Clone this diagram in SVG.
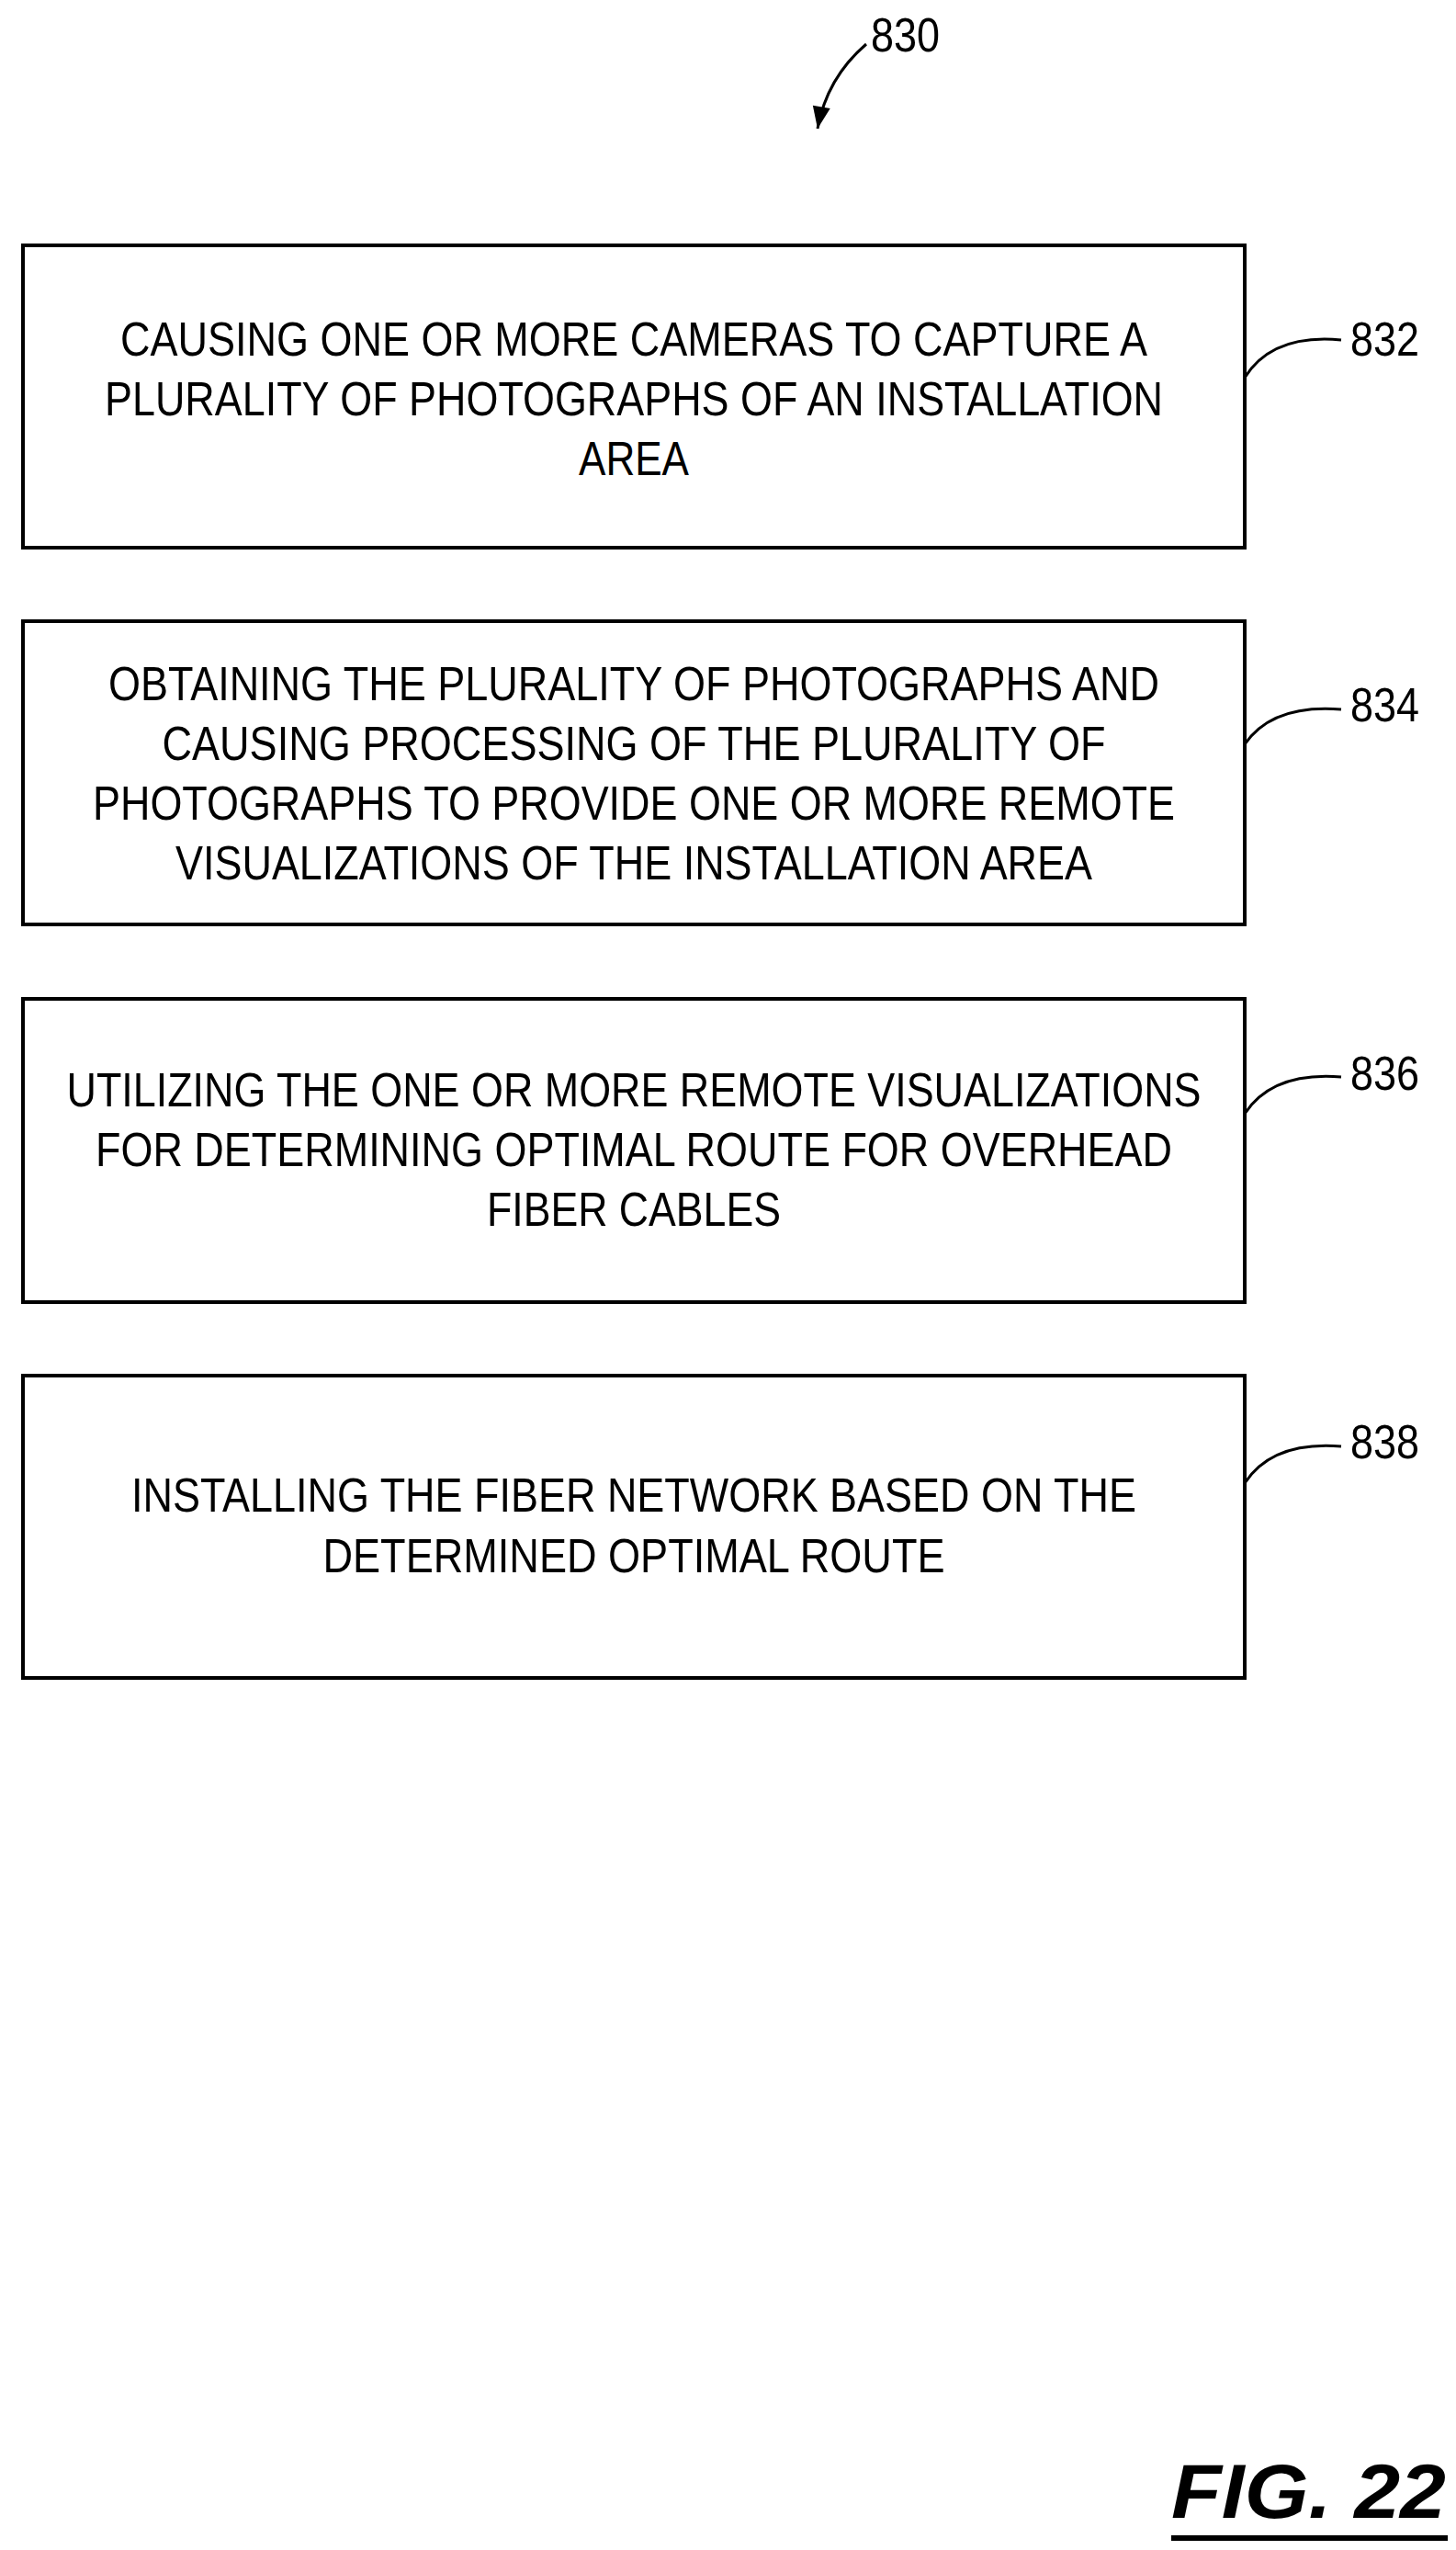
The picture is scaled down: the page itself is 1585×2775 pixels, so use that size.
<svg xmlns="http://www.w3.org/2000/svg" width="1585" height="2775" viewBox="0 0 1585 2775">
<style>
.b{fill:#fff;stroke:#000;stroke-width:4}
.t{font-family:"Liberation Sans",Arial,sans-serif;font-size:52px;text-anchor:middle;fill:#000}
.r{font-family:"Liberation Sans",Arial,sans-serif;font-size:52px;fill:#000}
.l{fill:none;stroke:#000;stroke-width:3}
</style>
<defs><marker id="ah" markerWidth="30" markerHeight="24" refX="10" refY="5" orient="auto" markerUnits="userSpaceOnUse" viewBox="0 0 10 10" ><path d="M0,1 L10,5 L0,9 z" fill="#000"/></marker></defs>
<rect width="1585" height="2775" fill="#fff"/>
<g id="n830"><text class="r" x="948" y="56" textLength="75" lengthAdjust="spacingAndGlyphs">830</text></g>
<g id="n832"><rect class="b" x="25" y="267" width="1330" height="329"/>
<text class="t" x="690" y="387" textLength="1118" lengthAdjust="spacingAndGlyphs">CAUSING ONE OR MORE CAMERAS TO CAPTURE A</text>
<text class="t" x="690" y="452" textLength="1152" lengthAdjust="spacingAndGlyphs">PLURALITY OF PHOTOGRAPHS OF AN INSTALLATION</text>
<text class="t" x="690" y="517" textLength="120" lengthAdjust="spacingAndGlyphs">AREA</text>
<text class="r" x="1470" y="387" textLength="75" lengthAdjust="spacingAndGlyphs">832</text></g>
<g id="n834"><rect class="b" x="25" y="676" width="1330" height="330"/>
<text class="t" x="690" y="762" textLength="1144" lengthAdjust="spacingAndGlyphs">OBTAINING THE PLURALITY OF PHOTOGRAPHS AND</text>
<text class="t" x="690" y="827" textLength="1027" lengthAdjust="spacingAndGlyphs">CAUSING PROCESSING OF THE PLURALITY OF</text>
<text class="t" x="690" y="892" textLength="1178" lengthAdjust="spacingAndGlyphs">PHOTOGRAPHS TO PROVIDE ONE OR MORE REMOTE</text>
<text class="t" x="690" y="957" textLength="998" lengthAdjust="spacingAndGlyphs">VISUALIZATIONS OF THE INSTALLATION AREA</text>
<text class="r" x="1470" y="785" textLength="75" lengthAdjust="spacingAndGlyphs">834</text></g>
<g id="n836"><rect class="b" x="25" y="1087" width="1330" height="330"/>
<text class="t" x="690" y="1204" textLength="1235" lengthAdjust="spacingAndGlyphs">UTILIZING THE ONE OR MORE REMOTE VISUALIZATIONS</text>
<text class="t" x="690" y="1269" textLength="1172" lengthAdjust="spacingAndGlyphs">FOR DETERMINING OPTIMAL ROUTE FOR OVERHEAD</text>
<text class="t" x="690" y="1334" textLength="320" lengthAdjust="spacingAndGlyphs">FIBER CABLES</text>
<text class="r" x="1470" y="1186" textLength="75" lengthAdjust="spacingAndGlyphs">836</text></g>
<g id="n838"><rect class="b" x="25" y="1497" width="1330" height="329"/>
<text class="t" x="690" y="1645" textLength="1094" lengthAdjust="spacingAndGlyphs">INSTALLING THE FIBER NETWORK BASED ON THE</text>
<text class="t" x="690" y="1711" textLength="677" lengthAdjust="spacingAndGlyphs">DETERMINED OPTIMAL ROUTE</text>
<text class="r" x="1470" y="1587" textLength="75" lengthAdjust="spacingAndGlyphs">838</text></g>
<g id="connectors">
<path class="l" d="M943,48 Q900,85 890,140" marker-end="url(#ah)"/>
<path class="l" d="M1355,411 Q1385,363 1460,370"/>
<path class="l" d="M1355,810 Q1385,766 1460,772"/>
<path class="l" d="M1355,1212 Q1385,1166 1460,1172"/>
<path class="l" d="M1355,1614 Q1385,1568 1460,1574"/>
</g>
<g id="fig"><text x="1275" y="2740" font-family="Liberation Sans,Arial,sans-serif" font-size="84" font-weight="bold" font-style="italic" textLength="299" lengthAdjust="spacingAndGlyphs">FIG. 22</text>
<line x1="1275" y1="2762" x2="1576" y2="2762" stroke="#000" stroke-width="6"/></g>
</svg>
